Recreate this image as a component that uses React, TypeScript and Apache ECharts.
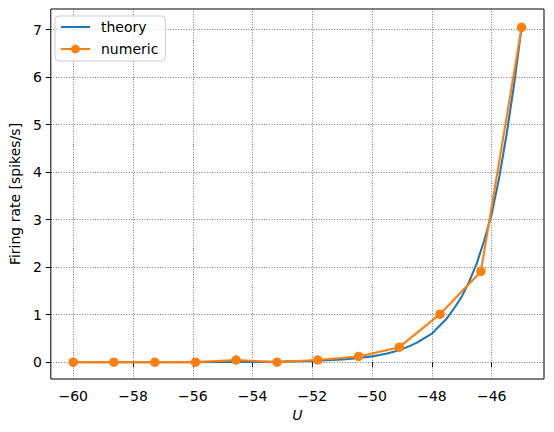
import React, { useEffect, useRef } from "react";
import * as echarts from "echarts";

const numericU = [-60, -58.64, -57.27, -55.91, -54.55, -53.18, -51.82, -50.45, -49.09, -47.73, -46.36, -45];
const numericRate = [0, 0, 0, 0, 0.045, 0, 0.045, 0.12, 0.315, 1.01, 1.91, 7.05];

const theoryU = [-60, -59, -58, -57, -56, -55, -54, -53, -52, -51, -50.5, -50, -49.75, -49.5, -49.25, -49, -48.75, -48.5, -48.25, -48, -47.75, -47.5, -47.25, -47, -46.75, -46.5, -46.25, -46, -45.75, -45.5, -45.25, -45];
const theoryRate = [0, 0, 0, 0, 0.001, 0.002, 0.005, 0.011, 0.024, 0.054, 0.081, 0.122, 0.15, 0.183, 0.225, 0.275, 0.337, 0.41, 0.505, 0.6, 0.76, 0.92, 1.14, 1.38, 1.7, 2.08, 2.56, 3.12, 3.88, 4.8, 5.85, 7.05];

const xTicks = [-60, -58, -56, -54, -52, -50, -48, -46];
const yTicks = [0, 1, 2, 3, 4, 5, 6, 7];

const FONT = "DejaVu Sans";
const fmt = (v: number) => String(v).replace("-", "\u2212");

export default function App() {
  const ref = useRef<HTMLDivElement>(null);
  useEffect(() => {
    if (!ref.current) return;
    const chart = echarts.init(ref.current, null, { renderer: "svg" });
    const gridData: any[] = [
      ...xTicks.map((v) => ({ xAxis: v })),
      ...yTicks.map((v) => ({ yAxis: v })),
    ];
    chart.setOption({
      animation: false,
      backgroundColor: "#ffffff",
      textStyle: { fontFamily: FONT },
      grid: {
        left: 48,
        top: 9,
        right: 10,
        bottom: 53,
        show: true,
        borderColor: "#000",
        borderWidth: 1,
        backgroundColor: "#fff",
      },
      legend: {
        data: [
          { name: "theory", icon: "path://M0,0H29V2.1H0Z" },
          { name: "numeric" },
        ],
        orient: "vertical",
        left: 55,
        top: 16,
        itemWidth: 29,
        itemHeight: 11,
        itemGap: 6,
        padding: [3, 7, 4, 5],
        backgroundColor: "rgba(255,255,255,0.8)",
        borderColor: "#cccccc",
        borderWidth: 1,
        borderRadius: 4,
        textStyle: {
          fontFamily: FONT,
          fontSize: 14,
          color: "#000",
          lineHeight: 16,
          padding: [0, 0, 0, 6],
        },
      },
      xAxis: {
        type: "value",
        min: -60.75,
        max: -44.25,
        name: "U",
        nameLocation: "middle",
        nameGap: 28,
        nameTextStyle: { fontFamily: FONT, fontSize: 14, fontStyle: "italic", color: "#000" },
        axisLine: { show: false },
        axisTick: { show: true, customValues: xTicks, length: 5, lineStyle: { color: "#000", width: 1 } },
        axisLabel: {
          customValues: xTicks,
          margin: 10,
          fontFamily: FONT,
          fontSize: 14,
          color: "#000",
          formatter: fmt,
        },
        splitLine: { show: false },
      },
      yAxis: {
        type: "value",
        min: -0.355,
        max: 7.435,
        name: "Firing rate [spikes/s]",
        nameLocation: "middle",
        nameGap: 24,
        nameTextStyle: { fontFamily: FONT, fontSize: 14, color: "#000" },
        axisLine: { show: false },
        axisTick: { show: true, customValues: yTicks, length: 5, lineStyle: { color: "#000", width: 1 } },
        axisLabel: {
          customValues: yTicks,
          margin: 9,
          fontFamily: FONT,
          fontSize: 14,
          color: "#000",
          formatter: fmt,
        },
        splitLine: { show: false },
      },
      series: [
        {
          name: "gridlines",
          type: "line",
          data: [],
          silent: true,
          markLine: {
            z: 1,
            silent: true,
            symbol: ["none", "none"],
            label: { show: false },
            lineStyle: { color: "#555", width: 0.8, type: [1, 1.6] },
            data: gridData,
          },
        },
        {
          name: "theory",
          type: "line",
          z: 3,
          data: theoryU.map((u, i) => [u, theoryRate[i]]),
          showSymbol: false,
          symbol: "none",
          smooth: false,
          lineStyle: { color: "#1f77b4", width: 2.1 },
          itemStyle: { color: "#1f77b4" },
        },
        {
          name: "numeric",
          type: "line",
          z: 4,
          data: numericU.map((u, i) => [u, numericRate[i]]),
          symbol: "circle",
          symbolSize: 9.5,
          showSymbol: true,
          lineStyle: { color: "#ff7f0e", width: 2.1 },
          itemStyle: { color: "#ff7f0e" },
        },
      ],
    });
    return () => chart.dispose();
  }, []);
  return (
    <div
      ref={ref}
      style={{ position: "fixed", left: 0, top: 0, width: 554, height: 432 }}
    />
  );
}
